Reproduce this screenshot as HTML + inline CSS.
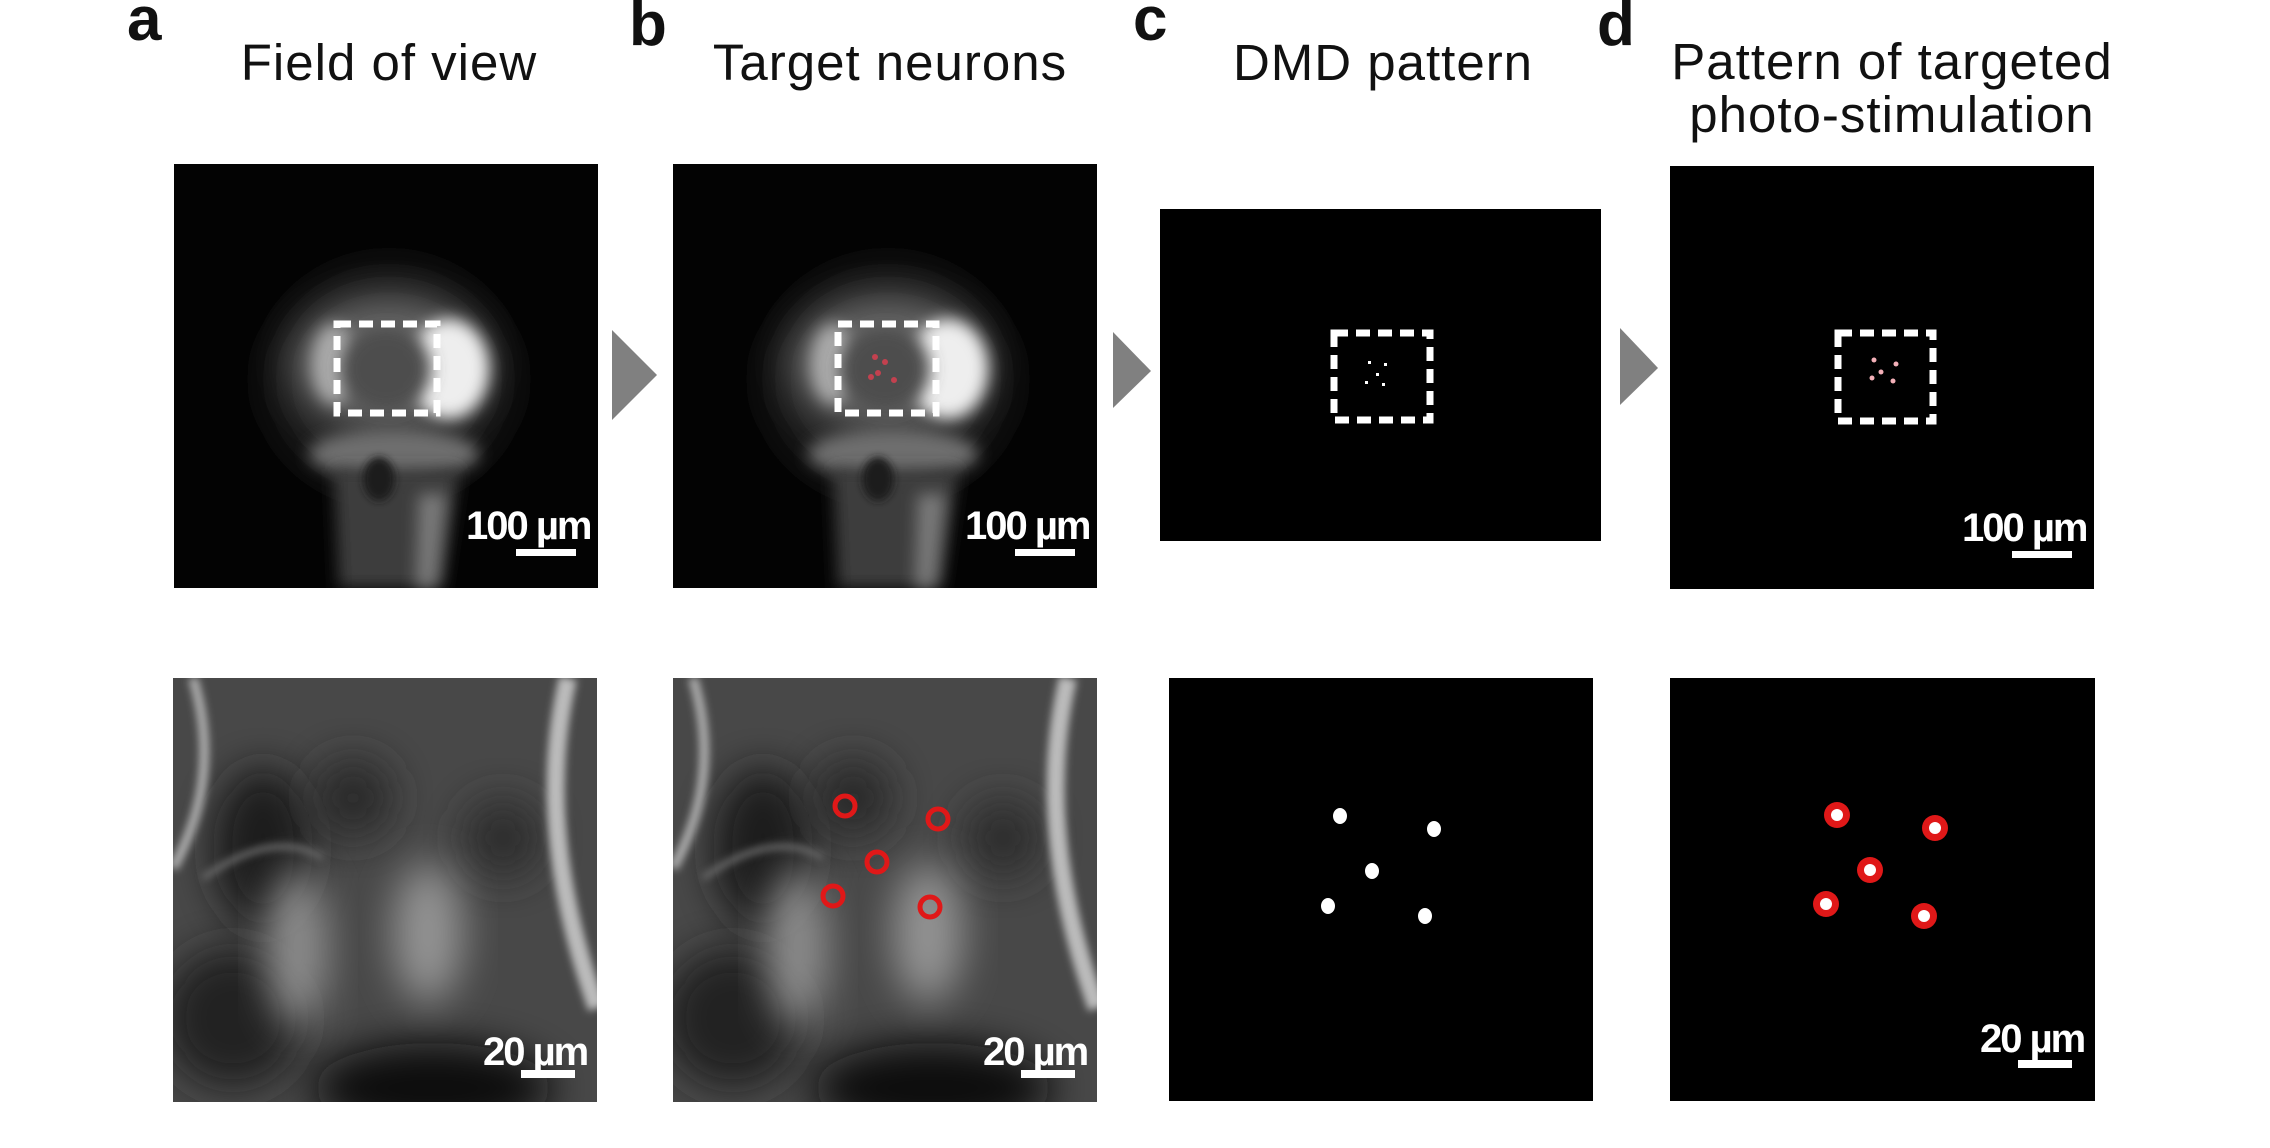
<!DOCTYPE html>
<html><head><meta charset="utf-8"><style>
html,body{margin:0;padding:0;background:#fff;}
svg{display:block;}
text{font-family:"Liberation Sans",Arial,sans-serif;}
</style></head><body>
<svg width="2270" height="1148" viewBox="0 0 2270 1148" xmlns="http://www.w3.org/2000/svg">
<defs>
<filter id="b20" x="-50%" y="-50%" width="200%" height="200%"><feGaussianBlur stdDeviation="20"/></filter>
<filter id="b12" x="-50%" y="-50%" width="200%" height="200%"><feGaussianBlur stdDeviation="12"/></filter>
<filter id="b8" x="-50%" y="-50%" width="200%" height="200%"><feGaussianBlur stdDeviation="8"/></filter>
<filter id="b4" x="-50%" y="-50%" width="200%" height="200%"><feGaussianBlur stdDeviation="4"/></filter>
<clipPath id="c424"><rect x="0" y="0" width="424" height="424"/></clipPath>
<g id="fish">
 <rect x="0" y="0" width="424" height="424" fill="#030303"/>
 <g clip-path="url(#c424)">
  <ellipse cx="215" cy="215" rx="120" ry="110" fill="#222" filter="url(#b20)"/>
  <ellipse cx="215" cy="200" rx="95" ry="65" fill="#6a6a6a" filter="url(#b20)"/>
  <ellipse cx="275" cy="205" rx="40" ry="50" fill="#eee" filter="url(#b8)"/>
  <ellipse cx="160" cy="200" rx="22" ry="40" fill="#aaa" filter="url(#b8)"/>
  <ellipse cx="212" cy="205" rx="45" ry="42" fill="#4e4e4e" filter="url(#b8)"/>
  <ellipse cx="220" cy="290" rx="85" ry="25" fill="#6e6e6e" filter="url(#b8)"/>
  <path d="M160 305 L285 305 L268 424 L165 424 Z" fill="#3e3e3e" filter="url(#b8)"/>
  <path d="M245 330 L272 330 L262 424 L242 424 Z" fill="#7a7a7a" filter="url(#b8)"/>
  <ellipse cx="205" cy="315" rx="16" ry="22" fill="#1a1a1a" filter="url(#b4)"/>
 </g>
</g>
<g id="zoomimg">
 <rect x="0" y="0" width="424" height="424" fill="#484848"/>
 <g clip-path="url(#c424)">
  <ellipse cx="90" cy="170" rx="50" ry="80" fill="#1a1a1a" filter="url(#b20)"/>
  <ellipse cx="60" cy="340" rx="70" ry="70" fill="#222" filter="url(#b20)"/>
  <ellipse cx="260" cy="410" rx="120" ry="45" fill="#0e0e0e" filter="url(#b20)"/>
  <ellipse cx="180" cy="120" rx="40" ry="40" fill="#2a2a2a" filter="url(#b20)"/>
  <ellipse cx="330" cy="160" rx="40" ry="40" fill="#2e2e2e" filter="url(#b20)"/>
  <ellipse cx="125" cy="270" rx="30" ry="80" fill="#8e8e8e" filter="url(#b20)"/>
  <ellipse cx="255" cy="255" rx="35" ry="70" fill="#949494" filter="url(#b20)"/>
  <path d="M20 0 Q50 100 0 190" stroke="#aaa" stroke-width="10" fill="none" filter="url(#b4)"/>
  <path d="M395 0 Q360 150 424 330" stroke="#bbb" stroke-width="18" fill="none" filter="url(#b4)"/>
  <path d="M170 20 L170 200" stroke="#6a6a6a" stroke-width="8" fill="none" filter="url(#b4)"/>
  <path d="M30 200 Q100 150 150 180" stroke="#6a6a6a" stroke-width="6" fill="none" filter="url(#b4)"/>
 </g>
</g>
</defs>

<text x="127" y="40" font-size="62" font-weight="bold" fill="#111">a</text>
<text x="629" y="45" font-size="62" font-weight="bold" fill="#111">b</text>
<text x="1133" y="40" font-size="62" font-weight="bold" fill="#111">c</text>
<text x="1597" y="45" font-size="62" font-weight="bold" fill="#111">d</text>

<g font-size="51" fill="#111" text-anchor="middle" letter-spacing="1">
 <text x="389" y="80">Field of view</text>
 <text x="890" y="80">Target neurons</text>
 <text x="1383" y="80">DMD pattern</text>
 <text x="1892" y="79">Pattern of targeted</text>
 <text x="1892" y="132">photo-stimulation</text>
</g>

<polygon points="612,330 657,375 612,420" fill="#808080"/>
<polygon points="1113,332 1151,371 1113,408" fill="#808080"/>
<polygon points="1620,328 1658,368 1620,405" fill="#808080"/>

<use href="#fish" x="174" y="164"/>
<use href="#fish" x="673" y="164"/>
<rect x="1160" y="209" width="441" height="332" fill="#000"/>
<rect x="1670" y="166" width="424" height="423" fill="#000"/>

<g fill="#d04050" opacity="0.9">
 <circle cx="875" cy="357" r="3"/><circle cx="885" cy="362" r="3"/><circle cx="878" cy="373" r="3"/><circle cx="871" cy="377" r="3"/><circle cx="894" cy="380" r="3"/>
</g>
<g fill="#fff">
 <rect x="1368" y="361" width="3" height="3"/><rect x="1384" y="363" width="3" height="3"/><rect x="1376" y="373" width="3" height="3"/><rect x="1365" y="381" width="3" height="3"/><rect x="1382" y="383" width="3" height="3"/>
</g>
<g fill="#f3b0b8">
 <circle cx="1874" cy="360" r="2.5"/><circle cx="1896" cy="364" r="2.5"/><circle cx="1881" cy="372" r="2.5"/><circle cx="1872" cy="378" r="2.5"/><circle cx="1893" cy="381" r="2.5"/>
</g>

<g fill="none" stroke="#fff" stroke-width="7" stroke-dasharray="14 8">
 <rect x="337" y="324" width="100" height="89"/>
 <rect x="838" y="324" width="98" height="89"/>
 <rect x="1334" y="333" width="96" height="87"/>
 <rect x="1838" y="333" width="95" height="88"/>
</g>

<g fill="#fff" font-size="40" font-weight="bold">
 <text x="466" y="539" letter-spacing="-2">100 µm</text><rect x="516" y="549" width="60" height="7"/>
 <text x="965" y="539" letter-spacing="-2">100 µm</text><rect x="1015" y="549" width="60" height="7"/>
 <text x="1962" y="541" letter-spacing="-2">100 µm</text><rect x="2012" y="551" width="60" height="7"/>
</g>

<use href="#zoomimg" x="173" y="678"/>
<use href="#zoomimg" x="673" y="678"/>
<rect x="1169" y="678" width="424" height="423" fill="#000"/>
<rect x="1670" y="678" width="425" height="423" fill="#000"/>

<g fill="none" stroke="#e01818" stroke-width="5">
 <circle cx="845" cy="806" r="10"/><circle cx="938" cy="819" r="10"/><circle cx="877" cy="862" r="10"/><circle cx="833" cy="896" r="10"/><circle cx="930" cy="907" r="10"/>
</g>

<g fill="#fff">
 <ellipse cx="1340" cy="816" rx="7" ry="8"/><ellipse cx="1434" cy="829" rx="7" ry="8"/><ellipse cx="1372" cy="871" rx="7" ry="8"/><ellipse cx="1328" cy="906" rx="7" ry="8"/><ellipse cx="1425" cy="916" rx="7" ry="8"/>
</g>

<g fill="#e01818">
 <circle cx="1837" cy="815" r="13"/><circle cx="1935" cy="828" r="13"/><circle cx="1870" cy="870" r="13"/><circle cx="1826" cy="904" r="13"/><circle cx="1924" cy="916" r="13"/>
</g>
<g fill="#fff">
 <circle cx="1837" cy="815" r="6"/><circle cx="1935" cy="828" r="6"/><circle cx="1870" cy="870" r="6"/><circle cx="1826" cy="904" r="6"/><circle cx="1924" cy="916" r="6"/>
</g>

<g fill="#fff" font-size="40" font-weight="bold">
 <text x="483" y="1065" letter-spacing="-2">20 µm</text><rect x="521" y="1070" width="54" height="8"/>
 <text x="983" y="1065" letter-spacing="-2">20 µm</text><rect x="1021" y="1070" width="54" height="8"/>
 <text x="1980" y="1052" letter-spacing="-2">20 µm</text><rect x="2018" y="1060" width="54" height="8"/>
</g>
</svg>
</body></html>
